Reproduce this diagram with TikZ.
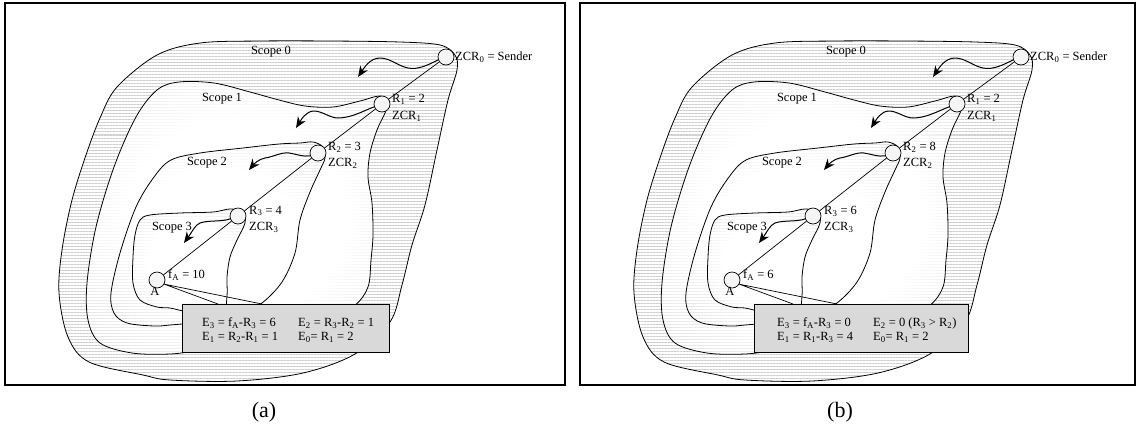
\documentclass[tikz,border=0pt]{standalone}
\usepackage{fontspec}
\setmainfont{Liberation Serif}
\usetikzlibrary{arrows.meta,patterns.meta,fadings}

% white centre that fades out towards the rim of a scope
\pgfdeclareradialshading{scopeshade}{\pgfpointorigin}{color(0bp)=(transparent!0); color(18bp)=(transparent!0); color(42bp)=(transparent!100); color(50bp)=(transparent!100)}
\pgfdeclarefading{scopefade}{\pgfuseshading{scopeshade}}

\tikzset{
  zcr/.style={circle,draw,fill=gray!8,minimum size=16pt,inner sep=0pt,line width=0.7pt},
  lbl/.style={anchor=west,inner sep=0pt},
  rim/.style={draw,line width=0.8pt},
  stripes/.style={pattern={Lines[angle=0,distance=3pt,line width=1pt]},pattern color=gray!38},
  clear/.style={fill=white,path fading=scopefade},
  wave/.style={line width=1pt,-{Stealth[length=11pt,width=9pt]}},
  callout/.style={draw,fill=gray!30,line width=0.7pt},
}

\newcommand{\ix}[2]{#1\textsubscript{#2}}

% scope outlines
\newcommand{\blobzero}{plot[smooth cycle,tension=0.55] coordinates{(100,118) (117,87) (157,55) (200,43) (260,41) (330,41) (400,42) (440,45) (455,55) (457,70) (448,100) (437,150) (425,205) (412,245) (402,285) (390,322) (355,354) (303,373) (237,381) (170,380) (143,375) (89,362) (68,337) (59,293) (62,250) (72,200) (86,155)}}
\newcommand{\blobone}{plot[smooth cycle,tension=0.55] coordinates{(136,117) (157,90) (179,82) (214,83) (250,92) (279,100) (305,106) (333,107) (360,101) (380,96) (388,103) (385,113) (377,130) (370,153) (368,177) (372,203) (373,235) (371,260) (368,287) (354,306) (320,325) (260,340) (200,350) (170,354) (132,353) (100,343) (88,320) (87,283) (96,227) (114,167)}}
\newcommand{\blobtwo}{plot[smooth cycle,tension=0.55] coordinates{(136,207) (154,177) (171,160) (200,153) (243,148) (279,144) (300,143) (313,142) (323,147) (325,158) (320,170) (310,192) (300,220) (295,253) (282,282) (262,303) (240,315) (200,322) (170,325) (154,326) (127,323) (114,313) (111,293) (120,253)}}
\newcommand{\blobthree}{plot[smooth cycle,tension=0.55] coordinates{(135,235) (140,220) (150,215) (180,213) (213,212) (230,209) (243,212) (245,223) (237,240) (230,257) (227,277) (227,296) (222,312) (190,312) (170,308) (157,307) (140,300) (133,283) (133,257)}}

% one panel: R2, R3, fA, first box row, second box row, box width
\newcommand{\scopepanel}[6]{%
  \fill[stripes] \blobzero;
  \fill[stripes] \blobone;
  \fill[clear] \blobone;
  \fill[stripes] \blobtwo;
  \fill[clear] \blobtwo;
  \fill[stripes] \blobthree;
  \fill[clear] \blobthree;
  \draw[rim] \blobzero;
  \draw[rim] \blobone;
  \draw[rim] \blobtwo;
  \draw[rim] \blobthree;

  \node at (271,52) {Scope 0};
  \node at (222,99) {Scope 1};
  \node at (207,163) {Scope 2};
  \node at (172,228) {Scope 3};

  \node[zcr] (z0) at (446,57) {};
  \node[zcr] (r1) at (382,104) {};
  \node[zcr] (r2) at (318,153) {};
  \node[zcr] (r3) at (238,216) {};
  \node[zcr] (a) at (157,280) {};
  \draw[line width=0.7pt] (z0) -- (r1) -- (r2) -- (r3) -- (a);

  \node[lbl] at (455,57) {\ix{ZCR}{0} = Sender};
  \node[lbl] at (392,99) {\ix{R}{1} = 2};
  \node[lbl] at (392,116) {\ix{ZCR}{1}};
  \node[lbl] at (328,147) {\ix{R}{2} = #1};
  \node[lbl] at (328,163) {\ix{ZCR}{2}};
  \node[lbl] at (249,211) {\ix{R}{3} = #2};
  \node[lbl] at (249,227) {\ix{ZCR}{3}};
  \node[lbl] at (168,275) {\ix{f}{A} = #3};
  \node at (155,291) {A};

  % repair messages sent down into each scope
  \coordinate (t0) at (358,77);
  \coordinate (t1) at (296,128);
  \coordinate (t2) at (249,170);
  \coordinate (t3) at (184,243);
  \draw[wave] (z0.200) .. controls (428,65) and (418,70) .. (408,68)
    .. controls (398,66) and (390,58) .. (380,58)
    .. controls (370,58) and (364,68) .. (t0);
  \draw[wave] (r1.200) .. controls (365,110) and (352,118) .. (338,118)
    .. controls (330,118) and (322,111) .. (314,111)
    .. controls (306,111) and (301,120) .. (t1);
  \draw[wave] (r2.200) .. controls (303,157) and (296,154) .. (289,153)
    .. controls (281,152) and (273,157) .. (265,158)
    .. controls (259,159) and (254,164) .. (t2);
  \draw[wave] (r3.200) .. controls (222,222) and (208,220) .. (200,223)
    .. controls (195,225) and (192,232) .. (t3);

  % error budget box
  \coordinate (p1) at (218,304);
  \coordinate (p2) at (262,304);
  \draw[line width=0.7pt] (p1) -- (a.-30) -- (p2);
  \node[callout,minimum width=#6pt,minimum height=48pt,inner sep=0pt] (box) at (286,328) {};
  \node[lbl] (etext) at (202,331) {\begin{tabular}{@{}p{96pt}@{}l@{}}#4\\#5\end{tabular}};
}

\begin{document}
\begin{tikzpicture}[x=1pt,y=-1pt,font=\fontsize{12.5}{14}\selectfont]
  \fill[white] (0,0) rectangle (1138,432);
  \useasboundingbox (0,0) rectangle (1138,432);

  \begin{scope}[name prefix=pa-]
    \scopepanel{3}{4}{10}
      {\ix{E}{3} = \ix{f}{A}-\ix{R}{3} = 6 & \ix{E}{2} = \ix{R}{3}-\ix{R}{2} = 1}
      {\ix{E}{1} = \ix{R}{2}-\ix{R}{1} = 1 & \ix{E}{0}= \ix{R}{1} = 2}
      {207}
  \end{scope}
  \begin{scope}[xshift=575pt,name prefix=pb-]
    \scopepanel{8}{6}{6}
      {\ix{E}{3} = \ix{f}{A}-\ix{R}{3} = 0 & \ix{E}{2} = 0 (\ix{R}{3} > \ix{R}{2})}
      {\ix{E}{1} = \ix{R}{1}-\ix{R}{3} = 4 & \ix{E}{0}= \ix{R}{1} = 2}
      {214}
  \end{scope}

  \draw[line width=1.3pt] (5,3) rectangle (565,385);
  \draw[line width=1.3pt] (580,3) rectangle (1135,385);
  \node[font=\fontsize{22}{24}\selectfont] (capa) at (264,412) {(a)};
  \node[font=\fontsize{22}{24}\selectfont] (capb) at (840,412) {(b)};
\end{tikzpicture}
\end{document}
